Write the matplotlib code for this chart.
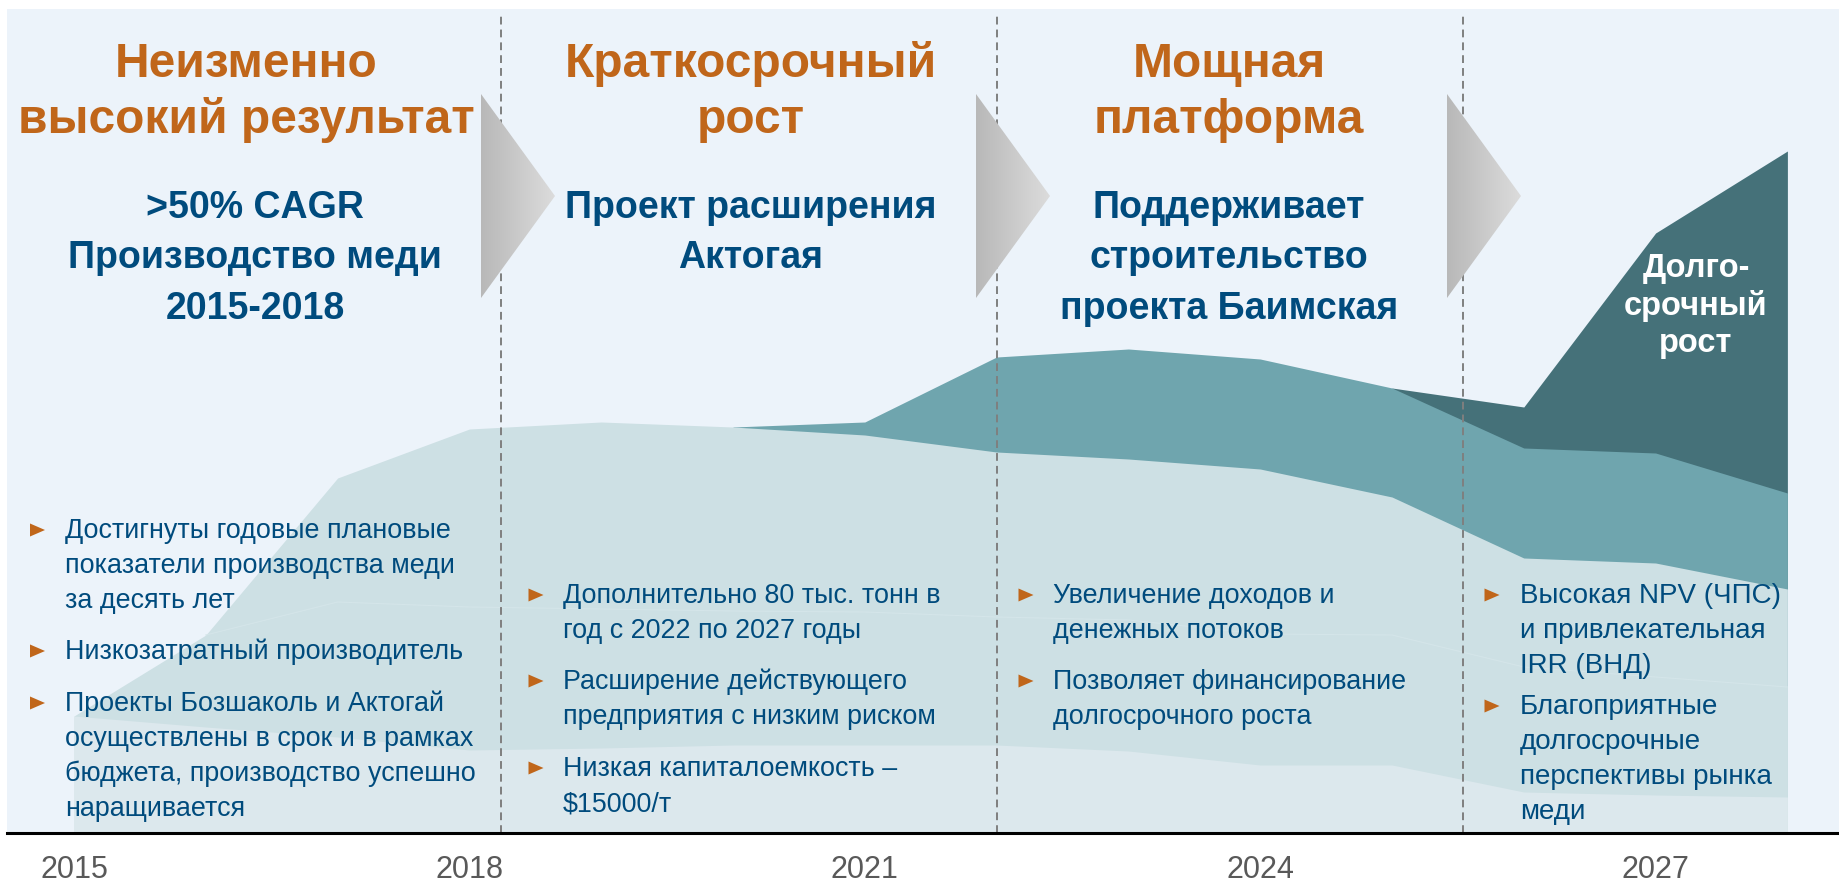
import numpy as np
import matplotlib
matplotlib.use('Agg')
import matplotlib.pyplot as plt
from matplotlib.patches import Polygon

plt.rcParams['font.family'] = ['Liberation Sans', 'DejaVu Sans']

# Данные (условные единицы)
years = np.arange(2015, 2029)
base_ops = [117, 106, 96, 83, 85, 88, 88, 88, 82, 68, 68, 41, 38, 36]
layer2 = [0, 92, 135, 143, 139, 134, 133, 128, 131, 131, 130, 125, 118, 110]
layer3 = [0, 0, 124, 178, 187, 184, 177, 165, 161, 165, 138, 109, 114, 98]
aktogay_exp = [0, 0, 0, 0, 0, 0, 13, 95, 110, 110, 109, 110, 110, 96]
long_term = [0, 0, 0, 0, 0, 0, 0, 0, 0, 0, 0, 41, 220, 342]
layer_colors = ['#DCE8ED', '#CDE0E4', '#CDE0E4', '#6FA5AE', '#457179']

tick_years = [2015, 2018, 2021, 2024, 2027]
separators = [2018.24, 2022.0, 2025.54]

titles = ['Неизменно\nвысокий результат', 'Краткосрочный\nрост', 'Мощная\nплатформа']
subtitles = ['>50% CAGR\nПроизводство меди\n2015-2018',
             'Проект расширения\nАктогая',
             'Поддерживает\nстроительство\nпроекта Баимская']
growth_label = 'Долго-\nсрочный\nрост'

bullets = [
    [['Достигнуты годовые плановые', 'показатели производства меди', 'за десять лет'],
     ['Низкозатратный производитель'],
     ['Проекты Бозшаколь и Актогай', 'осуществлены в срок и в рамках',
      'бюджета, производство успешно', 'наращивается']],
    [['Дополнительно 80 тыс. тонн в', 'год с 2022 по 2027 годы'],
     ['Расширение действующего', 'предприятия с низким риском'],
     ['Низкая капиталоемкость –', '$15000/т']],
    [['Увеличение доходов и', 'денежных потоков'],
     ['Позволяет финансирование', 'долгосрочного роста']],
    [['Высокая NPV (ЧПС)', 'и привлекательная', 'IRR (ВНД)'],
     ['Благоприятные', 'долгосрочные', 'перспективы рынка', 'меди']],
]

# Раскладка (пиксели)
W, H = 1840, 884
ORANGE = '#C0661A'
BLUE = '#004B7D'
BG = '#ECF3FA'

fig = plt.figure(figsize=(W / 100, H / 100), dpi=100)
ax = fig.add_axes([7 / W, (H - 833) / H, (W - 7) / W, (833 - 9) / H])
ax.set_facecolor(BG)

layers = [base_ops, layer2, layer3, aktogay_exp, long_term]
cum = np.cumsum(np.array(layers, dtype=float), axis=0)
for i in reversed(range(len(layers))):
    nz = np.nonzero(layers[i])[0]
    s = max(nz[0] - 1, 0)
    ax.fill_between(years[s:], 0, cum[i][s:], color=layer_colors[i], lw=0, zorder=2)
# еле заметный шов между двумя светлыми слоями
ax.plot(years[1:], cum[1][1:], color='#D4E5E9', lw=0.8, zorder=3)

for xs in separators:
    ax.axvline(xs, ymin=0, ymax=0.995, color='#7F7F7F', lw=1.4,
               ls=(0, (4.0, 2.6)), zorder=4)

x0 = 2015 - 67 / 131.8
ax.set_xlim(x0, x0 + (W - 7) / 131.8)
ax.set_ylim(0, 824)
ax.set_yticks([])
ax.set_xticks(tick_years)
ax.set_xticklabels([str(y) for y in tick_years])
ax.tick_params(axis='x', length=0, pad=15.5, labelsize=22, labelcolor='#595959')
for side in ['top', 'left', 'right']:
    ax.spines[side].set_visible(False)
ax.spines['bottom'].set_color('black')
ax.spines['bottom'].set_linewidth(2.2)
ax.spines['bottom'].set_zorder(6)

# Верхний слой в пикселях для стрелок и текста
ov = fig.add_axes([0, 0, 1, 1])
ov.set_xlim(0, W)
ov.set_ylim(H, 0)
ov.axis('off')
ov.patch.set_visible(False)

grad = np.linspace(0, 1, 256).reshape(1, -1)
cmap = matplotlib.colors.LinearSegmentedColormap.from_list('g', ['#B8B8B8', '#DCDCDC'])
for left in [481, 976, 1447]:
    tri = Polygon([[left, 94], [left + 74, 196], [left, 298]], closed=True,
                  facecolor='none', edgecolor='none')
    ov.add_patch(tri)
    im = ov.imshow(grad, extent=(left, left + 74, 298, 94), cmap=cmap,
                   aspect='auto', interpolation='bicubic', zorder=5)
    im.set_clip_path(tri)
ov.set_xlim(0, W)
ov.set_ylim(H, 0)

title_x = [246, 751, 1229]
sub_x = [255, 751, 1229]
for i in range(3):
    for k, line in enumerate(titles[i].split('\n')):
        ov.text(title_x[i], 77 + 56 * k, line, ha='center', va='baseline',
                fontsize=34.5, fontweight='bold', color=ORANGE, zorder=7)
    for k, line in enumerate(subtitles[i].split('\n')):
        ov.text(sub_x[i], 218 + 50.5 * k, line, ha='center', va='baseline',
                fontsize=27, fontweight='bold', color=BLUE, zorder=7)

for k, line in enumerate(growth_label.split('\n')):
    ov.text(1696, 277 + 37.5 * k, line, ha='center', va='baseline',
            fontsize=23.5, fontweight='bold', color='white', zorder=7)

marker_x = [37.5, 536, 1026, 1492]
text_x = [65, 563, 1053, 1520]
text_size = [19.4, 19.4, 19.4, 20]
first_base = [[538, 659, 711], [603, 689, 776], [603, 689], [603, 714]]
for c, col in enumerate(bullets):
    for g, group in enumerate(col):
        yb = first_base[c][g]
        cx, cy = marker_x[c], yb - 8
        ov.add_patch(Polygon([[cx - 7.5, cy - 6.5], [cx + 7.5, cy], [cx - 7.5, cy + 6.5]],
                             closed=True, facecolor=ORANGE, edgecolor='none', zorder=7))
        for k, line in enumerate(group):
            ov.text(text_x[c], yb + 35 * k, line, ha='left', va='baseline',
                    fontsize=text_size[c], color=BLUE, zorder=7)

fig.savefig('out.png', dpi=100, facecolor='white')
